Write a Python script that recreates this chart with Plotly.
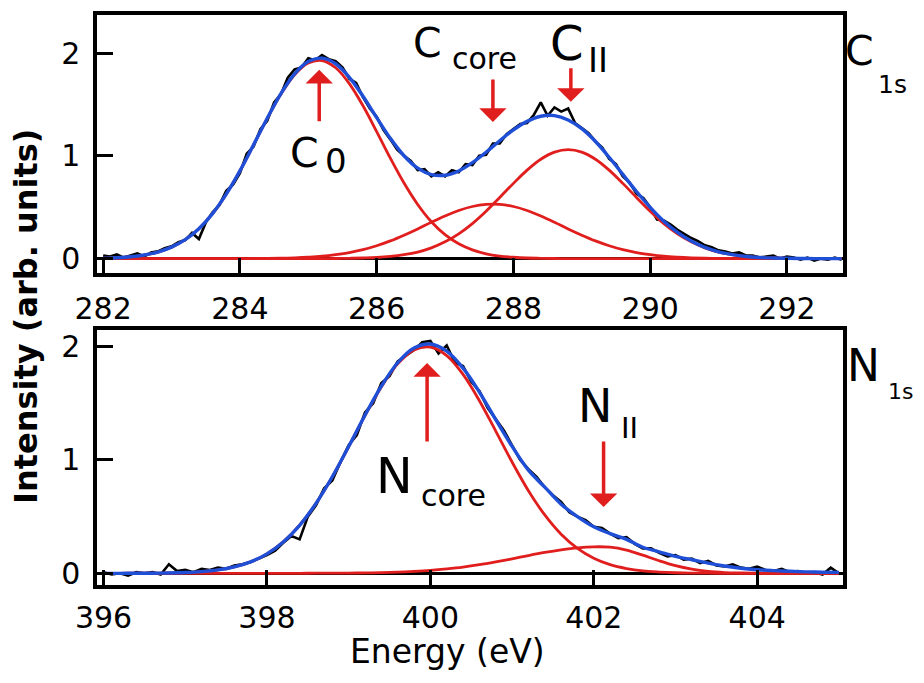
import plotly.graph_objects as go

# ---------------- DATA ----------------
# C 1s panel: fine grid (measured spectrum)
c_energy_data = [
    282.0, 282.1, 282.2, 282.3, 282.4, 282.5, 282.6, 282.7, 282.8, 282.9,
    283.0, 283.1, 283.2, 283.3, 283.4, 283.5, 283.6, 283.7, 283.8, 283.9,
    284.0, 284.1, 284.2, 284.3, 284.4, 284.5, 284.6, 284.7, 284.8, 284.9,
    285.0, 285.1, 285.2, 285.3, 285.4, 285.5, 285.6, 285.7, 285.8, 285.9,
    286.0, 286.1, 286.2, 286.3, 286.4, 286.5, 286.6, 286.7, 286.8, 286.9,
    287.0, 287.1, 287.2, 287.3, 287.4, 287.5, 287.6, 287.7, 287.8, 287.9,
    288.0, 288.1, 288.2, 288.3, 288.4, 288.5, 288.6, 288.7, 288.8, 288.9,
    289.0, 289.1, 289.2, 289.3, 289.4, 289.5, 289.6, 289.7, 289.8, 289.9,
    290.0, 290.1, 290.2, 290.3, 290.4, 290.5, 290.6, 290.7, 290.8, 290.9,
    291.0, 291.1, 291.2, 291.3, 291.4, 291.5, 291.6, 291.7, 291.8, 291.9,
    292.0, 292.1, 292.2, 292.3, 292.4, 292.5, 292.6, 292.7, 292.8]
c_measured = [
    0.03, 0.02, 0.04, 0.01, 0.03, 0.05, 0.02, 0.06, 0.07, 0.10,
    0.12, 0.16, 0.18, 0.25, 0.19, 0.35, 0.45, 0.52, 0.66, 0.72,
    0.83, 1.02, 1.09, 1.26, 1.34, 1.52, 1.60, 1.76, 1.84, 1.86,
    1.95, 1.93, 1.98, 1.94, 1.92, 1.86, 1.75, 1.71, 1.57, 1.46,
    1.38, 1.25, 1.16, 1.06, 1.00, 0.95, 0.86, 0.87, 0.80, 0.84,
    0.80, 0.86, 0.84, 0.92, 0.91, 1.00, 1.01, 1.12, 1.12, 1.21,
    1.26, 1.31, 1.32, 1.40, 1.52, 1.39, 1.47, 1.43, 1.46, 1.32,
    1.27, 1.22, 1.14, 1.08, 0.97, 0.92, 0.80, 0.74, 0.63, 0.59,
    0.50, 0.38, 0.37, 0.33, 0.28, 0.24, 0.20, 0.17, 0.13, 0.11,
    0.08, 0.07, 0.05, 0.06, 0.03, 0.03, 0.01, 0.02, 0.03, 0.00,
    0.02, 0.01, -0.01, 0.01, -0.02, 0.00, -0.01, 0.01, -0.01]

# C 1s panel: coarse grid (fit curves)
c_energy_fit = [
    282.0, 282.2, 282.4, 282.6, 282.8, 283.0, 283.2, 283.4, 283.6, 283.8,
    284.0, 284.2, 284.4, 284.6, 284.8, 285.0, 285.2, 285.4, 285.6, 285.8,
    286.0, 286.2, 286.4, 286.6, 286.8, 287.0, 287.2, 287.4, 287.6, 287.8,
    288.0, 288.2, 288.4, 288.6, 288.8, 289.0, 289.2, 289.4, 289.6, 289.8,
    290.0, 290.2, 290.4, 290.6, 290.8, 291.0, 291.2, 291.4, 291.6, 291.8,
    292.0, 292.2, 292.4, 292.6, 292.8]
c0_peak = [
    0.004, 0.009, 0.018, 0.035, 0.064, 0.112, 0.184, 0.291, 0.438, 0.627,
    0.853, 1.106, 1.364, 1.601, 1.789, 1.903, 1.927, 1.857, 1.703, 1.487,
    1.236, 0.977, 0.735, 0.527, 0.359, 0.233, 0.144, 0.085, 0.047, 0.025,
    0.013, 0.006, 0.003, 0.001, 0.0, 0.0, 0.0, 0.0, 0.0, 0.0,
    0.0, 0.0, 0.0, 0.0, 0.0, 0.0, 0.0, 0.0, 0.0, 0.0,
    0.0, 0.0, 0.0, 0.0, 0.0]
c_core_peak = [
    0.0, 0.0, 0.0, 0.0, 0.0, 0.0, 0.0, 0.0, 0.0, 0.0,
    0.0, 0.001, 0.002, 0.004, 0.008, 0.014, 0.023, 0.038, 0.058, 0.087,
    0.125, 0.172, 0.228, 0.289, 0.354, 0.415, 0.468, 0.507, 0.527, 0.527,
    0.507, 0.468, 0.415, 0.354, 0.289, 0.228, 0.172, 0.125, 0.087, 0.058,
    0.038, 0.023, 0.014, 0.008, 0.004, 0.002, 0.001, 0.0, 0.0, 0.0,
    0.0, 0.0, 0.0, 0.0, 0.0]
c_ii_peak = [
    0.0, 0.0, 0.0, 0.0, 0.0, 0.0, 0.0, 0.0, 0.0, 0.0,
    0.0, 0.0, 0.0, 0.0, 0.0, 0.0, 0.0, 0.001, 0.003, 0.006,
    0.011, 0.021, 0.038, 0.064, 0.105, 0.163, 0.241, 0.341, 0.461, 0.595,
    0.732, 0.861, 0.967, 1.036, 1.060, 1.036, 0.967, 0.861, 0.732, 0.595,
    0.461, 0.341, 0.241, 0.163, 0.105, 0.064, 0.038, 0.021, 0.011, 0.006,
    0.003, 0.001, 0.0, 0.0, 0.0]
c_fit_total = [
    0.004, 0.009, 0.018, 0.035, 0.064, 0.112, 0.184, 0.291, 0.438, 0.627,
    0.853, 1.107, 1.366, 1.605, 1.797, 1.917, 1.950, 1.896, 1.764, 1.580,
    1.372, 1.170, 1.001, 0.880, 0.818, 0.811, 0.853, 0.933, 1.035, 1.147,
    1.252, 1.335, 1.385, 1.391, 1.349, 1.264, 1.139, 0.986, 0.819, 0.653,
    0.499, 0.364, 0.255, 0.171, 0.109, 0.066, 0.039, 0.021, 0.011, 0.006,
    0.003, 0.001, 0.0, 0.0, 0.0]

# N 1s panel: fine grid (measured spectrum)
n_energy_data = [
    396.0, 396.1, 396.2, 396.3, 396.4, 396.5, 396.6, 396.7, 396.8, 396.9,
    397.0, 397.1, 397.2, 397.3, 397.4, 397.5, 397.6, 397.7, 397.8, 397.9,
    398.0, 398.1, 398.2, 398.3, 398.4, 398.5, 398.6, 398.7, 398.8, 398.9,
    399.0, 399.1, 399.2, 399.3, 399.4, 399.5, 399.6, 399.7, 399.8, 399.9,
    400.0, 400.1, 400.2, 400.3, 400.4, 400.5, 400.6, 400.7, 400.8, 400.9,
    401.0, 401.1, 401.2, 401.3, 401.4, 401.5, 401.6, 401.7, 401.8, 401.9,
    402.0, 402.1, 402.2, 402.3, 402.4, 402.5, 402.6, 402.7, 402.8, 402.9,
    403.0, 403.1, 403.2, 403.3, 403.4, 403.5, 403.6, 403.7, 403.8, 403.9,
    404.0, 404.1, 404.2, 404.3, 404.4, 404.5, 404.6, 404.7, 404.8, 404.9,
    405.0]
n_measured = [
    0.01, -0.01, 0.00, -0.02, 0.01, 0.00, 0.01, -0.01, 0.08, 0.02,
    0.03, 0.01, 0.04, 0.03, 0.05, 0.04, 0.07, 0.08, 0.10, 0.13,
    0.16, 0.20, 0.27, 0.33, 0.30, 0.50, 0.60, 0.75, 0.82, 0.98,
    1.13, 1.22, 1.42, 1.50, 1.68, 1.74, 1.87, 1.92, 1.97, 2.04,
    2.05, 1.94, 2.01, 1.86, 1.83, 1.69, 1.61, 1.46, 1.36, 1.26,
    1.13, 1.00, 0.92, 0.85, 0.76, 0.69, 0.63, 0.54, 0.50, 0.47,
    0.41, 0.40, 0.35, 0.31, 0.32, 0.26, 0.22, 0.22, 0.18, 0.15,
    0.16, 0.12, 0.13, 0.09, 0.11, 0.07, 0.06, 0.08, 0.05, 0.04,
    0.06, 0.03, 0.02, 0.04, 0.01, 0.02, 0.00, 0.01, -0.01, 0.05,
    0.00]

# N 1s panel: coarse grid (fit curves)
n_energy_fit = [
    396.0, 396.2, 396.4, 396.6, 396.8, 397.0, 397.2, 397.4, 397.6, 397.8,
    398.0, 398.2, 398.4, 398.6, 398.8, 399.0, 399.2, 399.4, 399.6, 399.8,
    400.0, 400.2, 400.4, 400.6, 400.8, 401.0, 401.2, 401.4, 401.6, 401.8,
    402.0, 402.2, 402.4, 402.6, 402.8, 403.0, 403.2, 403.4, 403.6, 403.8,
    404.0, 404.2, 404.4, 404.6, 404.8, 405.0]
n_core_peak = [
    0.0, 0.0, 0.001, 0.001, 0.003, 0.007, 0.015, 0.030, 0.057, 0.101,
    0.172, 0.277, 0.424, 0.616, 0.851, 1.117, 1.391, 1.645, 1.848, 1.971,
    1.997, 1.921, 1.755, 1.523, 1.255, 0.982, 0.729, 0.515, 0.345, 0.220,
    0.133, 0.076, 0.042, 0.021, 0.011, 0.005, 0.002, 0.001, 0.0, 0.0,
    0.0, 0.0, 0.0, 0.0, 0.0, 0.0]
n_ii_peak = [
    0.0, 0.0, 0.0, 0.0, 0.0, 0.0, 0.0, 0.0, 0.0, 0.0,
    0.0, 0.0, 0.0, 0.001, 0.001, 0.002, 0.004, 0.006, 0.010, 0.017,
    0.026, 0.039, 0.055, 0.076, 0.101, 0.128, 0.157, 0.184, 0.207, 0.225,
    0.234, 0.231, 0.205, 0.160, 0.111, 0.068, 0.037, 0.017, 0.007, 0.003,
    0.001, 0.0, 0.0, 0.0, 0.0, 0.0]
n_fit_total = [
    0.0, 0.0, 0.001, 0.001, 0.003, 0.007, 0.015, 0.030, 0.057, 0.101,
    0.172, 0.277, 0.424, 0.617, 0.852, 1.119, 1.395, 1.651, 1.858, 1.988,
    2.023, 1.960, 1.810, 1.599, 1.356, 1.120, 0.910, 0.760, 0.610, 0.500,
    0.410, 0.350, 0.300, 0.230, 0.190, 0.150, 0.120, 0.090, 0.065, 0.045,
    0.032, 0.024, 0.018, 0.013, 0.010, 0.008]

c_ticks = [282, 284, 286, 288, 290, 292]
n_ticks = [396, 398, 400, 402, 404]
y_ticks = [0, 1, 2]

# ---------------- STYLE ----------------
RED = "#e01e1e"
BLUE = "#1f4fd6"
FONT = "DejaVu Sans"
W, H = 924, 683
ML, MR, MT, MB = 97, 81, 15, 98
PW, PH = W - ML - MR, H - MT - MB


def px_x(px):
    return (px - ML) / PW


def px_y(py):
    return (H - MB - py) / PH


fig = go.Figure()

for xa, ya, ex, meas, ef, comps, tot in [
    ("x", "y", c_energy_data, c_measured, c_energy_fit,
     [c0_peak, c_core_peak, c_ii_peak], c_fit_total),
    ("x2", "y2", n_energy_data, n_measured, n_energy_fit,
     [n_core_peak, n_ii_peak], n_fit_total),
]:
    fig.add_trace(go.Scatter(x=ex, y=meas, mode="lines", xaxis=xa, yaxis=ya,
                             line=dict(color="black", width=2.6), showlegend=False))
    for comp in comps:
        fig.add_trace(go.Scatter(x=ef, y=comp, mode="lines", xaxis=xa, yaxis=ya,
                                 line=dict(color=RED, width=2.8, shape="spline"),
                                 showlegend=False))
    fig.add_trace(go.Scatter(x=ef, y=tot, mode="lines", xaxis=xa, yaxis=ya,
                             line=dict(color=BLUE, width=3.4, shape="spline"),
                             showlegend=False))

top_dom = [px_y(273), 1.0]
bot_dom = [0.0, px_y(330)]

common_x = dict(ticks="inside", ticklen=15, tickwidth=3, tickcolor="black",
                showline=True, linewidth=3.5, linecolor="black", mirror=True,
                showgrid=False, zeroline=False,
                tickfont=dict(family=FONT, size=30, color="black"))
common_y = dict(ticks="inside", ticklen=16, tickwidth=3, tickcolor="black",
                showline=True, linewidth=3.5, linecolor="black", mirror=True,
                showgrid=False, zeroline=True, zerolinecolor="black",
                zerolinewidth=3, tickvals=y_ticks, ticklabelstandoff=7,
                tickfont=dict(family=FONT, size=30, color="black"))

fig.update_layout(
    width=W, height=H,
    margin=dict(l=ML, r=MR, t=MT, b=MB),
    paper_bgcolor="white", plot_bgcolor="white",
    showlegend=False,
    xaxis=dict(domain=[0, 1], anchor="y", range=[281.91, 292.82],
               tickvals=c_ticks, ticklabelstandoff=6, **common_x),
    yaxis=dict(domain=top_dom, anchor="x", range=[-0.14, 2.37], **common_y),
    xaxis2=dict(domain=[0, 1], anchor="y2", range=[395.92, 405.05],
                tickvals=n_ticks, ticklabelstandoff=3, **common_x),
    yaxis2=dict(domain=bot_dom, anchor="x2", range=[-0.103, 2.147], **common_y),
)

# ---------------- arrows ----------------
arrows = [
    ("x", "y", 285.16, 1.837, 53),
    ("x", "y", 287.70, 1.33, -44),
    ("x", "y", 288.84, 1.525, -35),
    ("x2", "y2", 399.96, 1.856, 80),
    ("x2", "y2", 402.12, 0.585, -67),
]
for xr, yr, xv, yv, ay in arrows:
    fig.add_annotation(x=xv, y=yv, xref=xr, yref=yr, text="", showarrow=True,
                       ax=0, ay=ay, arrowhead=1, arrowsize=1.3, arrowwidth=3.5,
                       arrowcolor=RED, standoff=0)

# ---------------- peak labels (main letter + subscript) ----------------
labels = [
    ("C", 288, 153, 41), ("0", 323, 161, 34),
    ("C", 411, 43, 41), ("core", 450, 58, 30),
    ("C", 548, 43, 48), ("II", 586, 60, 34),
    ("C", 843, 51, 41), ("1s", 876, 84, 25),
    ("N", 374, 476, 49), ("core", 419, 495, 30),
    ("N", 576, 406, 46), ("II", 619, 428, 29),
    ("N", 845, 365, 44), ("1s", 886, 391, 22),
]
for txt, lx, ly, fs in labels:
    fig.add_annotation(x=px_x(lx), y=px_y(ly), xref="paper", yref="paper",
                       text=txt, showarrow=False, xanchor="left", yanchor="middle",
                       font=dict(family=FONT, size=fs, color="black"))

fig.add_annotation(x=px_x(447), y=px_y(651), xref="paper", yref="paper",
                   text="Energy (eV)", showarrow=False, xanchor="center",
                   yanchor="middle", font=dict(family=FONT, size=33, color="black"))
fig.add_annotation(x=px_x(26), y=px_y(317), xref="paper", yref="paper",
                   text="Intensity (arb. units)", showarrow=False, textangle=-90,
                   xanchor="center", yanchor="middle",
                   font=dict(family=FONT, size=32, color="black", weight="bold"))

fig.write_html("out.html", config={"displayModeBar": False},
               post_script="document.body.style.margin='0px';")
